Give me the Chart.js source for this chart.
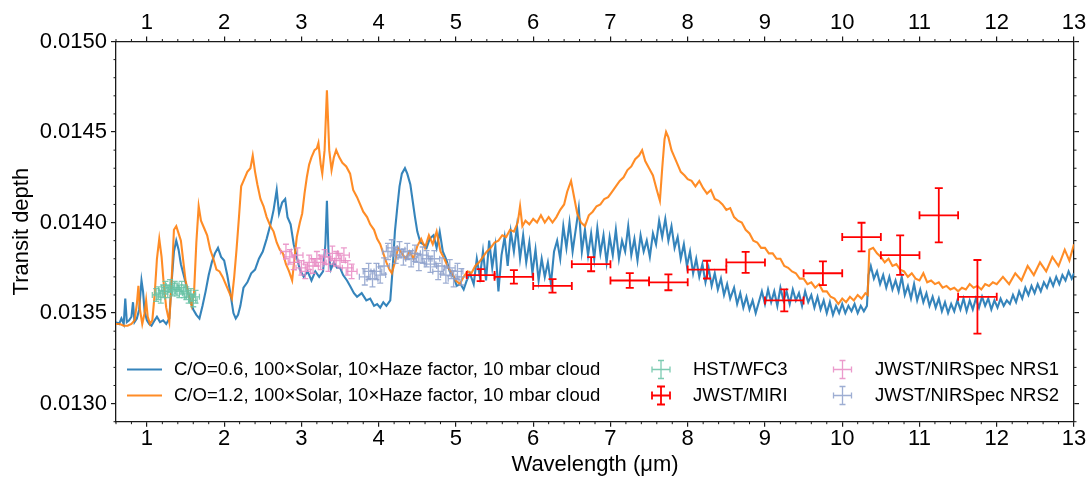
<!DOCTYPE html>
<html><head><meta charset="utf-8">
<script src="https://cdn.jsdelivr.net/npm/chart.js@4.4.1/dist/chart.umd.min.js"></script>
<style>html,body{margin:0;padding:0;background:#fff;overflow:hidden}#wrap{width:1091px;height:479px}</style>
</head><body><div id="wrap"><canvas id="c" width="1091" height="479"></canvas></div>
<script>
// ---------------- data ----------------
const xTicks = [1,2,3,4,5,6,7,8,9,10,11,12,13];
const yTicks = [0.0130,0.0135,0.0140,0.0145,0.0150];

const model06Wave = [
0.60,0.64,0.67,0.70,0.72,0.74,0.77,0.80,0.82,0.84,
0.87,0.90,0.93,0.95,0.97,1.00,1.03,1.06,1.10,1.13,
1.17,1.21,1.25,1.29,1.32,1.35,1.38,1.41,1.44,1.47,
1.50,1.53,1.56,1.60,1.64,1.68,1.72,1.76,1.80,1.84,
1.88,1.92,1.96,2.00,2.04,2.08,2.12,2.15,2.18,2.21,
2.25,2.30,2.35,2.40,2.45,2.50,2.55,2.60,2.64,2.68,
2.71,2.75,2.79,2.82,2.86,2.90,2.94,2.98,3.03,3.08,
3.13,3.18,3.23,3.28,3.31,3.33,3.35,3.38,3.42,3.46,
3.50,3.54,3.59,3.63,3.68,3.72,3.78,3.84,3.89,3.94,
3.98,4.02,4.06,4.10,4.15,4.18,4.21,4.24,4.27,4.30,
4.34,4.37,4.41,4.44,4.47,4.50,4.54,4.58,4.62,4.66,
4.71,4.75,4.79,4.83,4.88,4.92,4.97,5.01,5.06,5.10,
5.14,5.18,5.23,5.27,5.31,5.35,5.39,5.43,5.47,5.51,
5.55,5.59,5.63,5.67,5.71,5.75,5.79,5.83,5.87,5.91,
5.95,5.99,6.03,6.07,6.11,6.15,6.19,6.23,6.27,6.31,
6.35,6.39,6.43,6.47,6.51,6.55,6.59,6.63,6.67,6.71,
6.75,6.79,6.83,6.87,6.91,6.95,6.99,7.03,7.07,7.11,
7.15,7.19,7.23,7.27,7.31,7.35,7.39,7.43,7.47,7.51,
7.55,7.59,7.63,7.67,7.71,7.75,7.79,7.83,7.87,7.91,
7.95,7.99,8.03,8.07,8.11,8.15,8.19,8.23,8.27,8.31,
8.35,8.39,8.43,8.47,8.51,8.55,8.60,8.64,8.68,8.72,
8.76,8.80,8.84,8.88,8.92,8.96,9.00,9.04,9.08,9.12,
9.16,9.20,9.24,9.28,9.32,9.36,9.40,9.44,9.48,9.52,
9.56,9.60,9.64,9.68,9.72,9.76,9.80,9.84,9.88,9.92,
9.96,10.00,10.04,10.08,10.12,10.16,10.20,10.24,10.28,10.32,
10.34,10.37,10.41,10.45,10.49,10.53,10.57,10.61,10.65,10.69,
10.73,10.77,10.81,10.85,10.89,10.93,10.97,11.01,11.05,11.09,
11.13,11.17,11.21,11.25,11.29,11.33,11.37,11.41,11.45,11.49,
11.53,11.57,11.61,11.65,11.69,11.73,11.77,11.81,11.85,11.89,
11.93,11.97,12.01,12.05,12.09,12.13,12.17,12.21,12.25,12.29,
12.33,12.37,12.41,12.45,12.49,12.53,12.57,12.61,12.65,12.69,
12.73,12.77,12.81,12.85,12.89,12.93,12.97,13.00];
const model06Depth = [
0.01345,0.01344,0.01347,0.01344,0.01358,0.01345,0.01346,0.01348,0.01356,0.01345,
0.01347,0.01352,0.01368,0.01362,0.01351,0.01346,0.01344,0.01343,0.01346,0.01348,
0.01345,0.01346,0.01344,0.01347,0.01367,0.01384,0.01390,0.01385,0.01377,0.01372,
0.01367,0.01362,0.01357,0.01352,0.01349,0.01347,0.01354,0.01362,0.01371,0.01378,
0.01383,0.01386,0.01381,0.01379,0.01371,0.01361,0.01350,0.01347,0.01349,0.01354,
0.01364,0.01367,0.01372,0.01374,0.01380,0.01384,0.01391,0.01399,0.01407,0.01418,
0.01405,0.01411,0.01413,0.01403,0.01399,0.01388,0.01381,0.01374,0.01370,0.01373,
0.01368,0.01373,0.01370,0.01373,0.01388,0.01412,0.01384,0.01374,0.01378,0.01375,
0.01375,0.01371,0.01368,0.01365,0.01361,0.01359,0.01361,0.01357,0.01358,0.01354,
0.01355,0.01353,0.01356,0.01354,0.01357,0.01374,0.01395,0.01408,0.01420,0.01427,
0.01430,0.01427,0.01421,0.01412,0.01403,0.01395,0.01389,0.01388,0.01386,0.01391,
0.01393,0.01386,0.01395,0.01384,0.01379,0.01373,0.01370,0.01365,0.01366,0.01363,
0.01368,0.01372,0.01366,0.01380,0.01370,0.01384,0.01368,0.01390,0.01375,0.01387,
0.01362,0.01382,0.01392,0.01376,0.01395,0.01384,0.01398,0.01380,0.01393,0.01378,
0.01389,0.01372,0.01385,0.01368,0.01380,0.01370,0.01378,0.01366,0.01384,0.01390,
0.01380,0.01398,0.01386,0.01400,0.01384,0.01396,0.01408,0.01384,0.01396,0.01382,
0.01394,0.01380,0.01397,0.01383,0.01393,0.01378,0.01392,0.01382,0.01396,0.01380,
0.01390,0.01384,0.01398,0.01382,0.01391,0.01379,0.01393,0.01384,0.01390,0.01381,
0.01394,0.01388,0.01401,0.01392,0.01402,0.01390,0.01398,0.01386,0.01392,0.01380,
0.01388,0.01376,0.01384,0.01372,0.01380,0.01370,0.01377,0.01367,0.01375,0.01365,
0.01372,0.01363,0.01369,0.01360,0.01366,0.01358,0.01364,0.01355,0.01361,0.01353,
0.01359,0.01352,0.01357,0.01350,0.01356,0.01362,0.01355,0.01363,0.01356,0.01362,
0.01354,0.01364,0.01357,0.01362,0.01355,0.01363,0.01357,0.01361,0.01354,0.01362,
0.01356,0.01360,0.01353,0.01359,0.01352,0.01357,0.01350,0.01356,0.01349,0.01354,
0.01350,0.01355,0.01350,0.01354,0.01351,0.01355,0.01350,0.01354,0.01351,0.01354,
0.01371,0.01376,0.01369,0.01373,0.01366,0.01371,0.01364,0.01370,0.01363,0.01368,
0.01362,0.01370,0.01360,0.01365,0.01358,0.01366,0.01357,0.01363,0.01356,0.01361,
0.01354,0.01359,0.01353,0.01358,0.01351,0.01356,0.01350,0.01355,0.01351,0.01357,
0.01352,0.01358,0.01351,0.01357,0.01352,0.01358,0.01353,0.01359,0.01354,0.01358,
0.01352,0.01357,0.01353,0.01358,0.01354,0.01357,0.01355,0.01360,0.01356,0.01362,
0.01358,0.01364,0.01360,0.01365,0.01361,0.01366,0.01362,0.01367,0.01364,0.01369,
0.01365,0.01370,0.01366,0.01371,0.01368,0.01373,0.01369,0.01372];

const model12Wave = [
0.60,0.65,0.70,0.75,0.80,0.84,0.87,0.89,0.91,0.94,
0.97,0.99,1.01,1.04,1.07,1.10,1.13,1.16,1.19,1.22,
1.25,1.29,1.32,1.35,1.38,1.41,1.44,1.47,1.50,1.54,
1.58,1.61,1.64,1.67,1.70,1.74,1.78,1.82,1.86,1.90,
1.94,1.98,2.02,2.06,2.10,2.13,2.16,2.19,2.22,2.26,
2.30,2.34,2.37,2.40,2.43,2.47,2.51,2.55,2.60,2.64,
2.68,2.72,2.76,2.80,2.84,2.88,2.91,2.94,2.98,3.01,
3.04,3.07,3.10,3.13,3.17,3.20,3.22,3.25,3.27,3.30,
3.33,3.36,3.39,3.42,3.45,3.49,3.53,3.58,3.63,3.67,
3.72,3.76,3.80,3.85,3.89,3.94,3.98,4.02,4.06,4.10,
4.14,4.17,4.21,4.25,4.30,4.35,4.40,4.45,4.50,4.55,
4.60,4.65,4.70,4.75,4.80,4.85,4.90,4.95,5.00,5.05,
5.10,5.15,5.20,5.25,5.30,5.35,5.40,5.45,5.50,5.55,
5.60,5.65,5.70,5.75,5.80,5.83,5.86,5.90,5.95,6.00,
6.05,6.10,6.15,6.20,6.25,6.30,6.35,6.40,6.44,6.49,
6.53,6.57,6.62,6.67,6.72,6.77,6.82,6.87,6.92,6.97,
7.02,7.07,7.12,7.17,7.22,7.27,7.32,7.37,7.41,7.45,
7.50,7.55,7.60,7.64,7.67,7.70,7.72,7.75,7.79,7.83,
7.87,7.91,7.96,8.00,8.05,8.10,8.15,8.20,8.25,8.30,
8.35,8.40,8.45,8.50,8.55,8.60,8.65,8.70,8.75,8.80,
8.85,8.90,8.95,9.00,9.05,9.10,9.15,9.20,9.25,9.30,
9.35,9.40,9.45,9.50,9.55,9.60,9.65,9.70,9.75,9.80,
9.85,9.90,9.95,10.00,10.05,10.10,10.15,10.20,10.25,10.30,
10.33,10.35,10.40,10.45,10.50,10.55,10.60,10.65,10.70,10.75,
10.80,10.85,10.90,10.95,11.00,11.05,11.10,11.15,11.20,11.25,
11.30,11.35,11.40,11.45,11.50,11.55,11.60,11.65,11.70,11.75,
11.80,11.85,11.90,11.95,12.00,12.08,12.16,12.24,12.32,12.40,
12.48,12.56,12.64,12.72,12.80,12.88,12.94,13.00];
const model12Depth = [
0.01344,0.01344,0.01343,0.01343,0.01344,0.01346,0.01355,0.01365,0.01352,0.01344,
0.01350,0.01357,0.01348,0.01344,0.01346,0.01360,0.01380,0.01391,0.01381,0.01365,
0.01353,0.01345,0.01368,0.01396,0.01398,0.01394,0.01390,0.01379,0.01368,0.01360,
0.01354,0.01361,0.01389,0.01409,0.01401,0.01397,0.01393,0.01385,0.01380,0.01374,
0.01373,0.01370,0.01366,0.01362,0.01358,0.01370,0.01385,0.01402,0.01420,0.01424,
0.01428,0.01430,0.01437,0.01428,0.01421,0.01413,0.01409,0.01403,0.01398,0.01395,
0.01389,0.01385,0.01383,0.01377,0.01373,0.01368,0.01380,0.01392,0.01400,0.01405,
0.01416,0.01425,0.01432,0.01436,0.01440,0.01441,0.01444,0.01432,0.01427,0.01440,
0.01473,0.01440,0.01429,0.01436,0.01440,0.01436,0.01433,0.01431,0.01427,0.01418,
0.01414,0.01410,0.01406,0.01403,0.01399,0.01396,0.01391,0.01388,0.01383,0.01378,
0.01374,0.01372,0.01378,0.01386,0.01383,0.01380,0.01384,0.01380,0.01387,0.01391,
0.01386,0.01393,0.01388,0.01395,0.01384,0.01380,0.01375,0.01372,0.01368,0.01366,
0.01370,0.01373,0.01372,0.01376,0.01378,0.01381,0.01384,0.01386,0.01389,0.01390,
0.01393,0.01392,0.01396,0.01395,0.01400,0.01409,0.01398,0.01401,0.01399,0.01402,
0.01400,0.01404,0.01400,0.01403,0.01400,0.01403,0.01407,0.01410,0.01417,0.01423,
0.01414,0.01405,0.01400,0.01398,0.01404,0.01406,0.01409,0.01410,0.01413,0.01414,
0.01417,0.01420,0.01423,0.01425,0.01429,0.01431,0.01435,0.01437,0.01440,0.01434,
0.01430,0.01426,0.01418,0.01412,0.01430,0.01446,0.01450,0.01447,0.01440,0.01436,
0.01432,0.01428,0.01426,0.01424,0.01423,0.01420,0.01423,0.01419,0.01416,0.01418,
0.01413,0.01412,0.01410,0.01407,0.01408,0.01403,0.01401,0.01400,0.01396,0.01394,
0.01390,0.01389,0.01386,0.01386,0.01383,0.01383,0.01380,0.01380,0.01376,0.01375,
0.01373,0.01372,0.01369,0.01369,0.01366,0.01367,0.01364,0.01366,0.01362,0.01362,
0.01359,0.01358,0.01355,0.01358,0.01356,0.01359,0.01357,0.01360,0.01358,0.01361,
0.01360,0.01385,0.01386,0.01383,0.01381,0.01378,0.01380,0.01376,0.01377,0.01374,
0.01373,0.01370,0.01372,0.01369,0.01368,0.01372,0.01367,0.01368,0.01366,0.01367,
0.01364,0.01365,0.01363,0.01364,0.01362,0.01364,0.01363,0.01366,0.01364,0.01365,
0.01363,0.01366,0.01365,0.01367,0.01366,0.01370,0.01366,0.01372,0.01368,0.01376,
0.01371,0.01378,0.01373,0.01381,0.01376,0.01385,0.01379,0.01388];

const wfc3Wave  = [1.12,1.15,1.18,1.21,1.24,1.27,1.30,1.33,1.36,1.39,1.42,1.45,1.48,1.51,1.54,1.57,1.60,1.63];
const wfc3Depth = [0.01360,0.01361,0.01359,0.01362,0.01364,0.01362,0.01365,0.01363,0.01364,0.01363,0.01362,0.01364,0.01362,0.01361,0.01359,0.01360,0.01357,0.01359];
const wfc3WaveErr  = [0.05,0.05,0.05,0.05,0.05,0.05,0.05,0.05,0.05,0.05,0.05,0.05,0.05,0.05,0.05,0.05,0.05,0.05];
const wfc3DepthErr = [0.000035,0.000035,0.000035,0.000035,0.000035,0.000035,0.000035,0.000035,0.000035,0.000035,0.000035,0.000035,0.000035,0.000035,0.000035,0.000035,0.000035,0.000035];

const nrs1Wave  = [2.80,2.85,2.90,2.95,3.00,3.05,3.10,3.15,3.20,3.25,3.30,3.35,3.40,3.45,3.50,3.55,3.60,3.65];
const nrs1Depth = [0.01384,0.01381,0.01378,0.01382,0.01375,0.01373,0.01378,0.01376,0.01380,0.01378,0.01381,0.01377,0.01383,0.01380,0.01379,0.01382,0.01375,0.01373];
const nrs1WaveErr  = [0.07,0.07,0.07,0.07,0.07,0.07,0.07,0.07,0.07,0.07,0.07,0.07,0.07,0.07,0.07,0.07,0.07,0.07];
const nrs1DepthErr = [0.00004,0.00004,0.00004,0.00004,0.00004,0.00004,0.00004,0.00004,0.00004,0.00004,0.00004,0.00004,0.00004,0.00004,0.00004,0.00004,0.00004,0.00004];

const nrs2Wave  = [3.82,3.87,3.92,3.97,4.02,4.07,4.12,4.17,4.22,4.27,4.32,4.37,4.42,4.47,4.52,4.57,4.62,4.67,4.72,4.77,4.82,4.87,4.92,4.97,5.02,5.07];
const nrs2Depth = [0.01370,0.01373,0.01369,0.01373,0.01371,0.01376,0.01384,0.01386,0.01382,0.01385,0.01381,0.01384,0.01380,0.01383,0.01378,0.01382,0.01380,0.01377,0.01380,0.01373,0.01376,0.01371,0.01375,0.01369,0.01373,0.01370];
const nrs2WaveErr  = [0.07,0.07,0.07,0.07,0.07,0.07,0.07,0.07,0.07,0.07,0.07,0.07,0.07,0.07,0.07,0.07,0.07,0.07,0.07,0.07,0.07,0.07,0.07,0.07,0.07,0.07];
const nrs2DepthErr = [0.000045,0.000045,0.000045,0.000045,0.000045,0.000045,0.000045,0.000045,0.000045,0.000045,0.000045,0.000045,0.000045,0.000045,0.000045,0.000045,0.000045,0.000045,0.000045,0.000045,0.000045,0.000045,0.000045,0.000045,0.000045,0.000045];

const miriWave  = [5.32,5.75,6.25,6.75,7.25,7.75,8.25,8.75,9.25,9.75,10.25,10.75,11.25,11.75];
const miriDepth = [0.01371,0.01370,0.01365,0.01377,0.01368,0.01367,0.01374,0.01378,0.01357,0.01372,0.01392,0.01382,0.01404,0.01359];
const miriWaveErr  = [0.18,0.25,0.25,0.25,0.25,0.25,0.25,0.25,0.25,0.25,0.25,0.25,0.25,0.25];
const miriDepthErr = [0.000033,0.000037,0.000037,0.000039,0.000041,0.000044,0.000049,0.000058,0.000061,0.000066,0.000079,0.000109,0.00015,0.000203];

// ---------------- chart ----------------
const AX = '#1a1a1a';
const FONT = "'Liberation Sans', Arial, Helvetica, sans-serif";
const pts = (xs, ys) => xs.map((v, i) => ({x: v, y: ys[i]}));

const errorBars = {
  id: 'errorBars',
  afterDatasetsDraw(chart) {
    const {ctx, chartArea: a, scales: {x, y}} = chart;
    ctx.save();
    ctx.beginPath(); ctx.rect(a.left, a.top, a.right - a.left, a.bottom - a.top); ctx.clip();
    chart.data.datasets.forEach((ds, i) => {
      if (!ds.errX || !chart.isDatasetVisible(i)) return;
      ctx.strokeStyle = ds.borderColor; ctx.lineWidth = ds.errWidth;
      const cap = ds.capHalf;
      ds.data.forEach((p, j) => {
        const px = x.getPixelForValue(p.x), py = y.getPixelForValue(p.y);
        const xl = x.getPixelForValue(p.x - ds.errX[j]), xr = x.getPixelForValue(p.x + ds.errX[j]);
        const yt = y.getPixelForValue(p.y + ds.errY[j]), yb = y.getPixelForValue(p.y - ds.errY[j]);
        ctx.beginPath();
        ctx.moveTo(xl, py); ctx.lineTo(xr, py);
        ctx.moveTo(px, yt); ctx.lineTo(px, yb);
        ctx.moveTo(xl, py - cap); ctx.lineTo(xl, py + cap);
        ctx.moveTo(xr, py - cap); ctx.lineTo(xr, py + cap);
        ctx.moveTo(px - cap, yt); ctx.lineTo(px + cap, yt);
        ctx.moveTo(px - cap, yb); ctx.lineTo(px + cap, yb);
        ctx.stroke();
      });
    });
    ctx.restore();
  }
};

const minorTicks = {
  id: 'minorTicks',
  afterDraw(chart) {
    const {ctx, chartArea: a, scales} = chart;
    ctx.save(); ctx.strokeStyle = AX; ctx.lineWidth = 1;
    ctx.beginPath();
    for (let k = 3; k <= 65; k++) {
      if (k % 5 === 0) continue;
      const px = scales.x.getPixelForValue(k / 5);
      ctx.moveTo(px, a.bottom); ctx.lineTo(px, a.bottom + 2.5);
      ctx.moveTo(px, a.top); ctx.lineTo(px, a.top - 2.5);
    }
    for (let k = 129; k <= 150; k++) {
      if (k % 5 === 0) continue;
      const py = scales.y.getPixelForValue(k / 10000);
      ctx.moveTo(a.left, py); ctx.lineTo(a.left - 2.5, py);
      ctx.moveTo(a.right, py); ctx.lineTo(a.right + 2.5, py);
    }
    ctx.stroke();
    ctx.restore();
  }
};

const legendBox = {
  id: 'legendBox',
  afterDraw(chart) {
    const {ctx} = chart;
    const ds = chart.data.datasets;
    const rows = [369.5, 395.5];
    const cols = [
      {mark: 127, markEnd: 162, text: 174, items: [0, 1]},
      {mark: 661, text: 693, items: [2, 5]},
      {mark: 842.5, text: 875, items: [3, 4]}
    ];
    ctx.save();
    ctx.font = "18.5px " + FONT; ctx.fillStyle = '#000'; ctx.textBaseline = 'middle'; ctx.textAlign = 'left';
    cols.forEach(c => c.items.forEach((idx, r) => {
      const d = ds[idx], yy = rows[r];
      ctx.strokeStyle = d.borderColor;
      if (d.errX) {
        const h = 9, cap = d.capHalf;
        ctx.lineWidth = d.errWidth;
        ctx.beginPath();
        ctx.moveTo(c.mark - h, yy); ctx.lineTo(c.mark + h, yy);
        ctx.moveTo(c.mark, yy - h); ctx.lineTo(c.mark, yy + h);
        ctx.moveTo(c.mark - h, yy - cap); ctx.lineTo(c.mark - h, yy + cap);
        ctx.moveTo(c.mark + h, yy - cap); ctx.lineTo(c.mark + h, yy + cap);
        ctx.moveTo(c.mark - cap, yy - h); ctx.lineTo(c.mark + cap, yy - h);
        ctx.moveTo(c.mark - cap, yy + h); ctx.lineTo(c.mark + cap, yy + h);
        ctx.stroke();
      } else {
        ctx.lineWidth = 2;
        ctx.beginPath(); ctx.moveTo(c.mark, yy); ctx.lineTo(c.markEnd, yy); ctx.stroke();
      }
      ctx.fillText(d.label, c.text, yy);
    }));
    ctx.restore();
  }
};

const tickFont = {family: FONT, size: 22, lineHeight: 1};
const gridOpts = {drawOnChartArea: false, drawTicks: true, tickLength: 5, color: AX, lineWidth: 1.2};
const borderOpts = {display: true, color: AX, width: 1.3};
const setX = s => { s.ticks = xTicks.map(v => ({value: v})); };
const setY = s => { s.ticks = yTicks.map(v => ({value: v})); };

new Chart(document.getElementById('c'), {
  type: 'scatter',
  data: {datasets: [
    {label: 'C/O=0.6, 100×Solar, 10×Haze factor, 10 mbar cloud', data: pts(model06Wave, model06Depth),
     showLine: true, borderColor: 'rgba(31,119,180,0.9)', backgroundColor: 'rgba(31,119,180,0.9)', borderWidth: 2.1, pointRadius: 0, tension: 0, order: 3},
    {label: 'C/O=1.2, 100×Solar, 10×Haze factor, 10 mbar cloud', data: pts(model12Wave, model12Depth),
     showLine: true, borderColor: 'rgba(255,127,14,0.9)', backgroundColor: 'rgba(255,127,14,0.9)', borderWidth: 2.1, pointRadius: 0, tension: 0, order: 2},
    {label: 'HST/WFC3', data: pts(wfc3Wave, wfc3Depth), errX: wfc3WaveErr, errY: wfc3DepthErr,
     borderColor: 'rgba(102,194,165,0.85)', backgroundColor: 'rgba(102,194,165,0.85)', errWidth: 1.3, capHalf: 3, pointRadius: 0, order: 1},
    {label: 'JWST/NIRSpec NRS1', data: pts(nrs1Wave, nrs1Depth), errX: nrs1WaveErr, errY: nrs1DepthErr,
     borderColor: 'rgba(231,138,195,0.85)', backgroundColor: 'rgba(231,138,195,0.85)', errWidth: 1.3, capHalf: 3, pointRadius: 0, order: 1},
    {label: 'JWST/NIRSpec NRS2', data: pts(nrs2Wave, nrs2Depth), errX: nrs2WaveErr, errY: nrs2DepthErr,
     borderColor: 'rgba(141,160,203,0.85)', backgroundColor: 'rgba(141,160,203,0.85)', errWidth: 1.3, capHalf: 3, pointRadius: 0, order: 1},
    {label: 'JWST/MIRI', data: pts(miriWave, miriDepth), errX: miriWaveErr, errY: miriDepthErr,
     borderColor: '#ff0000', backgroundColor: '#ff0000', errWidth: 1.8, capHalf: 4, pointRadius: 0, order: 0}
  ]},
  options: {
    responsive: false, animation: false, devicePixelRatio: 1,
    layout: {padding: 0},
    plugins: {legend: {display: false}, tooltip: {enabled: false}},
    scales: {
      x: {type: 'linear', position: 'bottom', min: 0.6, max: 13,
          afterBuildTicks: setX, afterFit: s => { s.height = 57.3; },
          ticks: {font: tickFont, color: '#000', padding: 1, autoSkip: false, maxRotation: 0, callback: v => String(v)},
          grid: gridOpts, border: borderOpts,
          title: {display: true, text: 'Wavelength (μm)', color: '#000', font: {family: FONT, size: 22}, padding: {top: 0, bottom: 1}}},
      x2: {type: 'linear', position: 'top', min: 0.6, max: 13,
          afterBuildTicks: setX, afterFit: s => { s.height = 41.5; },
          ticks: {font: tickFont, color: '#000', padding: 3, autoSkip: false, maxRotation: 0, callback: v => String(v)},
          grid: gridOpts, border: borderOpts},
      y: {type: 'linear', position: 'left', min: 0.0129, max: 0.0150,
          afterBuildTicks: setY, afterFit: s => { s.width = 116; },
          ticks: {font: tickFont, color: '#000', padding: 4, callback: v => v.toFixed(4)},
          grid: gridOpts, border: borderOpts,
          title: {display: true, text: 'Transit depth', color: '#000', font: {family: FONT, size: 22}, padding: {top: 9, bottom: 0}}},
      y2: {type: 'linear', position: 'right', min: 0.0129, max: 0.0150,
          afterBuildTicks: setY, afterFit: s => { s.width = 17; },
          ticks: {display: false},
          grid: gridOpts, border: borderOpts}
    }
  },
  plugins: [errorBars, minorTicks, legendBox]
});
</script>
</body></html>
